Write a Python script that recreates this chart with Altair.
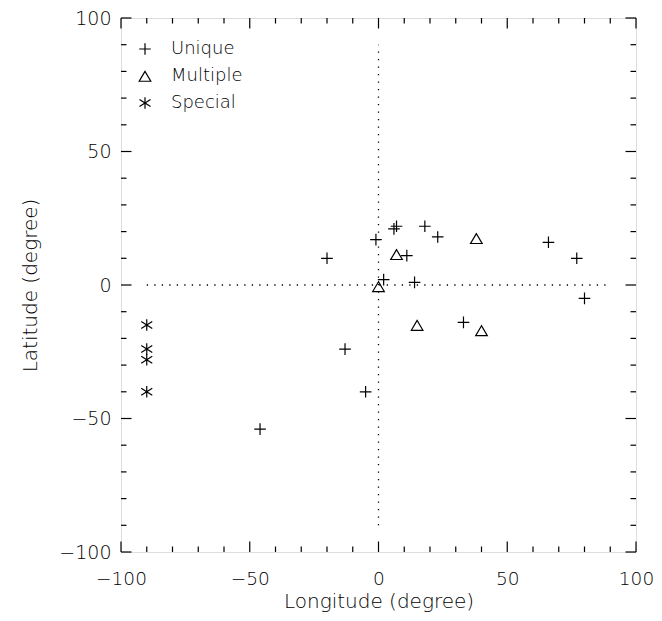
import altair as alt
import pandas as pd

# ---- data ----
unique_lon = [-46, -20, -13, -5, -1, 2, 6, 7, 11, 14, 18, 23, 33, 66, 77, 80]
unique_lat = [-54, 10, -24, -40, 17, 2, 21, 22, 11, 1, 22, 18, -14, 16, 10, -5]
multiple_lon = [0, 7, 15, 38, 40]
multiple_lat = [-0.5, 11.5, -15, 17.5, -17]
special_lon = [-90, -90, -90, -90]
special_lat = [-15, -24, -28, -40]

categories = ["Unique", "Multiple", "Special"]
major_ticks = [-100, -50, 0, 50, 100]
minor_ticks = [v for v in range(-100, 101, 10) if v % 50 != 0]
guide_range = [-90, 90]

FONT = "DejaVu Sans"
FW = 200
W, H = 515, 534
MAJ, MIN = 10.5, 5.5

rows = []
for lo, la in zip(unique_lon, unique_lat):
    rows.append({"lon": lo, "lat": la, "type": "Unique"})
for lo, la in zip(multiple_lon, multiple_lat):
    rows.append({"lon": lo, "lat": la, "type": "Multiple"})
for lo, la in zip(special_lon, special_lat):
    rows.append({"lon": lo, "lat": la, "type": "Special"})
df = pd.DataFrame(rows)

plus = "M-1,0H1M0,-1V1"
tri = "M0,-0.8L-1,0.9L1,0.9Z"
ast = "M0,-1V1M-0.95,-0.6L0.95,0.6M-0.95,0.6L0.95,-0.6"

xs = alt.Scale(domain=[-100, 100], nice=False, zero=False)
ys = alt.Scale(domain=[-100, 100], nice=False, zero=False)

axis_common = dict(values=major_ticks, ticks=False, domain=False, grid=False, labelFlush=False,
                   labelOverlap=False, titleFontSize=20, labelFont=FONT, titleFont=FONT,
                   labelFontWeight=FW, titleFontWeight=FW, labelColor="black", titleColor="black")

points = alt.Chart(df).mark_point(filled=False, color="black", strokeWidth=1.2, size=135, opacity=1).encode(
    x=alt.X("lon:Q", scale=xs, title="Longitude (degree)",
            axis=alt.Axis(labelPadding=17, titlePadding=4, labelFontSize=18.5, **axis_common)),
    y=alt.Y("lat:Q", scale=ys, title="Latitude (degree)",
            axis=alt.Axis(labelPadding=10, titlePadding=18, labelFontSize=19, **axis_common)),
    shape=alt.Shape("type:N", scale=alt.Scale(domain=categories, range=[plus, tri, ast]),
                    legend=alt.Legend(title=None, orient="none", legendX=15, legendY=22, padding=0,
                                      labelFont=FONT, labelFontWeight=FW, labelFontSize=18, labelColor="black",
                                      labelOffset=17, rowPadding=9, symbolSize=135, symbolStrokeWidth=1.2,
                                      symbolStrokeColor="black", symbolFillColor="transparent")),
)

# dotted guide lines
hline = alt.Chart(pd.DataFrame({"x": [guide_range[0]], "x2": [guide_range[1]], "y": [0]})).mark_rule(
    color="black", strokeDash=[1.3, 6.2], strokeWidth=1.3).encode(
    x=alt.X("x:Q", scale=xs), x2="x2:Q", y=alt.Y("y:Q", scale=ys))
vline = alt.Chart(pd.DataFrame({"y": [guide_range[0]], "y2": [guide_range[1]], "x": [0]})).mark_rule(
    color="black", strokeDash=[1.3, 6.2], strokeWidth=1.3).encode(
    y=alt.Y("y:Q", scale=ys), y2="y2:Q", x=alt.X("x:Q", scale=xs))

# inward ticks on all four sides
tick_layers = []
for vals, ln in ((major_ticks, MAJ), (minor_ticks, MIN)):
    td = pd.DataFrame({"v": vals})
    base = alt.Chart(td).mark_rule(color="black", strokeWidth=1.2)
    tick_layers += [
        base.encode(x=alt.X("v:Q", scale=xs), y=alt.value(H), y2=alt.value(H - ln)),
        base.encode(x=alt.X("v:Q", scale=xs), y=alt.value(0), y2=alt.value(ln)),
        base.encode(y=alt.Y("v:Q", scale=ys), x=alt.value(0), x2=alt.value(ln)),
        base.encode(y=alt.Y("v:Q", scale=ys), x=alt.value(W), x2=alt.value(W - ln)),
    ]

chart = alt.layer(hline, vline, *tick_layers, points).properties(
    width=W, height=H,
    autosize=alt.AutoSizeParams(type="none"),
    padding={"left": 113, "top": 10, "right": 18, "bottom": 60},
).configure_view(stroke="black", strokeWidth=1.3).configure(background="white")

chart.save("out.html", embed_options={"renderer": "svg", "actions": False})
